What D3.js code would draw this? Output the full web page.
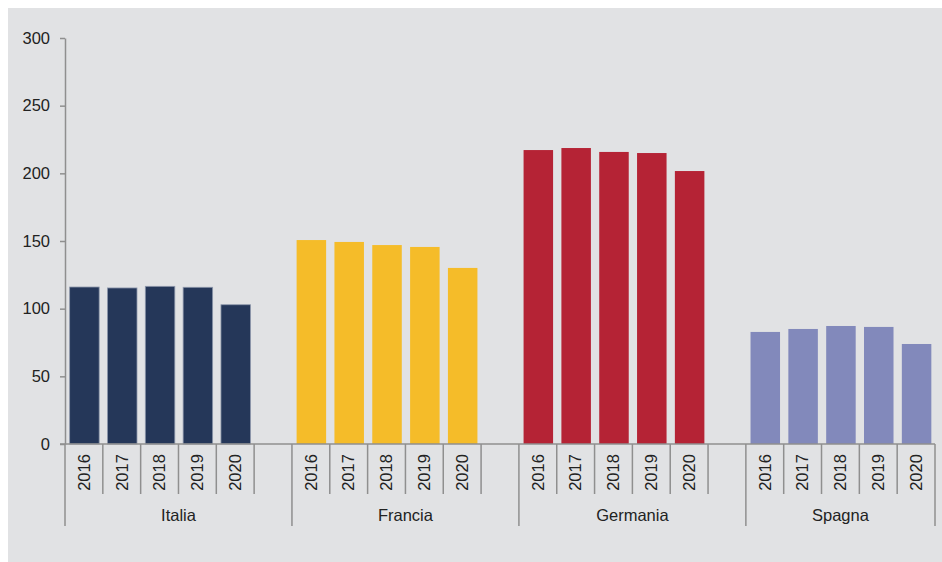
<!DOCTYPE html>
<html>
<head>
<meta charset="utf-8">
<script src="https://cdn.jsdelivr.net/npm/d3@7"></script>
<style>
  body { margin: 0; background: #fff; }
  text { font-family: "Liberation Sans", Arial, sans-serif; fill: #222; }
</style>
</head>
<body>
<svg id="chart" width="942" height="562"></svg>
<script>
// data
const countries = ["Italia", "Francia", "Germania", "Spagna"]
const years = ["2016", "2017", "2018", "2019", "2020"]
const italia = [116.0, 115.3, 116.5, 115.8, 102.9]
const francia = [150.7, 149.3, 147.0, 145.6, 130.1]
const germania = [217.2, 218.7, 215.8, 215.0, 201.7]
const spagna = [82.8, 85.0, 87.2, 86.5, 73.9]
const yTicks = [0, 50, 100, 150, 200, 250, 300]

const seriesByCountry = {Italia: italia, Francia: francia, Germania: germania, Spagna: spagna}
const colors = {Italia: "#253759", Francia: "#f5bc29", Germania: "#b52335", Spagna: "#8289bb"}

// slots: 5 years + an empty slot after each country (none after the last)
let slots = []
countries.forEach((c, ci) => {
  years.forEach(y => slots.push(c + "|" + y))
  if (ci < countries.length - 1) slots.push(c + "|")
})

let bars = []
countries.forEach(c => {
  years.forEach((y, i) => bars.push({country: c, year: y, value: seriesByCountry[c][i]}))
})

const svg = d3.select("#chart")
svg.append("rect").attr("x", 8).attr("y", 8).attr("width", 934).attr("height", 554).attr("fill", "#e1e2e4")

const x = d3.scaleBand().domain(slots).range([65, 935])
const y = d3.scaleLinear().domain([0, 300]).range([444, 38])
const barW = x.bandwidth() * 0.78
const axisColor = "#8f8f8f"

// y axis
const yAxis = svg.append("g").attr("transform", "translate(65,0)")
  .call(d3.axisLeft(y).tickValues(yTicks).tickSize(5).tickSizeOuter(0).tickPadding(10))
yAxis.select(".domain").attr("stroke", axisColor).attr("stroke-width", 1.5)
yAxis.selectAll(".tick line").attr("stroke", axisColor).attr("stroke-width", 1.5)
yAxis.selectAll(".tick text").style("font-size", "16.5px").attr("fill", "#222")
  .style("font-family", '"Liberation Sans", Arial, sans-serif')

// bars
svg.selectAll(null)
  .data(bars)
  .enter()
  .append("rect")
  .attr("x", d => x(d.country + "|" + d.year) + (x.bandwidth() - barW) / 2 + 0.5)
  .attr("y", d => y(d.value))
  .attr("width", barW)
  .attr("height", d => y(0) - y(d.value))
  .attr("fill", d => colors[d.country])
  .attr("stroke", d => d.country == "Italia" ? "#8d97ab" : "none")
  .attr("stroke-width", 0.8)

// x axis base line
svg.append("line")
  .attr("x1", 60).attr("x2", x.range()[1])
  .attr("y1", y(0)).attr("y2", y(0))
  .attr("stroke", axisColor).attr("stroke-width", 1.5)

// short separators between slots
const shortSeps = slots.slice(1).filter((s, i) => !slots[i].endsWith("|"))
svg.selectAll(null)
  .data(shortSeps)
  .enter()
  .append("line")
  .attr("x1", d => x(d)).attr("x2", d => x(d))
  .attr("y1", y(0)).attr("y2", 494)
  .attr("stroke", axisColor).attr("stroke-width", 1.5)

// long separators at country borders
const groupStart = countries.map(c => x(c + "|2016"))
const groupEdges = groupStart.concat([x.range()[1]])
svg.selectAll(null)
  .data(groupEdges)
  .enter()
  .append("line")
  .attr("x1", d => d).attr("x2", d => d)
  .attr("y1", y(0)).attr("y2", 526)
  .attr("stroke", axisColor).attr("stroke-width", 1.5)

// year labels
svg.selectAll(null)
  .data(bars)
  .enter()
  .append("text")
  .attr("transform", d => "translate(" + (x(d.country + "|" + d.year) + x.bandwidth() / 2) + ",472.5) rotate(-90)")
  .attr("text-anchor", "middle")
  .attr("dy", "0.35em")
  .style("font-size", "16.5px")
  .text(d => d.year)

// country labels
svg.selectAll(null)
  .data(countries)
  .enter()
  .append("text")
  .attr("x", (d, i) => (groupEdges[i] + groupEdges[i + 1]) / 2)
  .attr("y", 521)
  .attr("text-anchor", "middle")
  .style("font-size", "16.5px")
  .text(d => d)
</script>
</body>
</html>
